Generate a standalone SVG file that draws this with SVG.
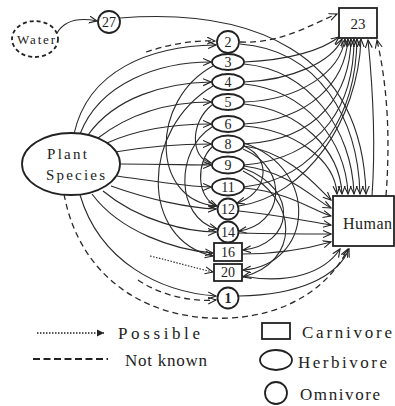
<svg xmlns="http://www.w3.org/2000/svg" width="395" height="406" viewBox="0 0 395 406">
<style>
.n{fill:#fff;stroke:#222;stroke-width:1.8}
.e{fill:none;stroke:#2a2a2a;stroke-width:1.1;marker-end:url(#a)}
.d{fill:none;stroke:#2a2a2a;stroke-width:1.3;stroke-dasharray:6 4;marker-end:url(#a)}
.p{fill:none;stroke:#333;stroke-width:1.2;stroke-dasharray:1.5 1.5;marker-end:url(#a)}
.t{font-family:"Liberation Serif",serif;font-size:14px;fill:#222;text-anchor:middle}
.l{font-family:"Liberation Serif",serif;font-size:17px;fill:#222}
</style>
<defs>
<marker id="a" markerUnits="userSpaceOnUse" markerWidth="9" markerHeight="9" refX="8" refY="4" orient="auto">
<path d="M0,0.5 L8,4 L0,7.5" fill="none" stroke="#222" stroke-width="1.1"/>
</marker>
<marker id="f" markerUnits="userSpaceOnUse" markerWidth="9" markerHeight="9" refX="7" refY="4" orient="auto">
<path d="M0,0.5 L7,4 L0,7.5 Z" fill="#222"/>
</marker>
</defs>
<g id="connectors">
<path class="e" d="M57,33 C66,18 82,18 97,21"/>
<path class="e" d="M120,18 C250,8 362,50 366,194"/>
<path class="d" d="M240,42 C280,44 310,25 337,14"/>
<path class="d" d="M146,52 C170,44 195,40 215,41"/>
<path class="e" d="M74,134 C88,70 150,46 216,45"/>
<path class="e" d="M80,134 C100,82 160,62 211,62"/>
<path class="e" d="M88,135 C115,97 165,83 211,82"/>
<path class="e" d="M98,138 C132,112 172,102 211,102"/>
<path class="e" d="M107,143 C140,128 180,124 211,124"/>
<path class="e" d="M115,152 C150,146 190,144 211,144"/>
<path class="e" d="M120,164 C160,164 190,165 211,165"/>
<path class="e" d="M117,176 C160,182 190,187 211,187"/>
<path class="e" d="M111,186 C150,200 190,208 216,209"/>
<path class="e" d="M103,191 C140,222 190,232 216,232"/>
<path class="e" d="M92,194 C120,232 175,250 213,253"/>
<path class="e" d="M80,195 C100,262 160,292 216,296"/>
<path class="d" d="M64,194 C80,280 150,322 230,318 C290,315 330,285 348,249"/>
<path class="d" d="M138,280 C160,295 190,302 216,300"/>
<path class="p" d="M150,256 C175,262 195,268 213,272"/>
<path class="e" d="M213,66 C150,100 150,200 216,206"/>
<path class="e" d="M213,86 C140,130 140,240 213,256"/>
<path class="e" d="M212,105 C190,122 190,158 211,163"/>
<path class="e" d="M212,127 C175,150 175,218 217,229"/>
<path class="e" d="M212,147 C196,162 196,198 217,206"/>
<path class="e" d="M244,146 C275,160 265,195 237,203"/>
<path class="e" d="M243,149 C292,170 282,225 239,231"/>
<path class="e" d="M243,168 C302,190 292,245 243,250"/>
<path class="e" d="M244,143 C322,170 312,265 243,270"/>
<path class="e" d="M243,171 C300,200 300,262 243,277"/>
<path class="e" d="M244,62 C290,60 322,50 339,37"/>
<path class="e" d="M244,82 C292,80 332,62 342,39"/>
<path class="e" d="M244,102 C300,100 340,72 345,39"/>
<path class="e" d="M244,124 C310,120 345,82 348,39"/>
<path class="e" d="M244,144 C320,140 350,92 351,39"/>
<path class="e" d="M244,165 C325,158 354,102 354,39"/>
<path class="e" d="M244,187 C320,178 356,112 357,39"/>
<path class="e" d="M239,206 C305,196 358,122 361,39"/>
<path class="e" d="M240,44 C320,50 358,120 360,194"/>
<path class="e" d="M244,64 C310,70 352,130 354,194"/>
<path class="e" d="M244,84 C305,90 346,140 348,194"/>
<path class="e" d="M244,104 C300,110 340,150 342,194"/>
<path class="e" d="M244,126 C295,130 335,160 337,194"/>
<path class="e" d="M244,146 C290,152 318,188 331,200"/>
<path class="e" d="M244,166 C290,172 315,200 331,208"/>
<path class="e" d="M244,188 C290,192 315,212 331,216"/>
<path class="e" d="M239,211 C280,215 310,222 331,225"/>
<path class="e" d="M239,233 C280,234 310,234 331,234"/>
<path class="e" d="M242,254 C280,254 310,248 331,242"/>
<path class="e" d="M242,276 C290,285 325,272 340,249"/>
<path class="e" d="M239,296 C300,295 338,276 349,249"/>
<path class="e" d="M372,196 C376,140 372,80 368,40"/>
<path class="d" d="M386,196 C391,130 386,80 377,40"/>
</g>
<g id="water"><ellipse cx="35" cy="39" rx="23" ry="18" fill="#fff" stroke="#222" stroke-width="1.8" stroke-dasharray="4 3"/><text x="36" y="44" style="font-family:'Liberation Serif',serif;font-size:13px;fill:#222" text-anchor="middle" textLength="38" lengthAdjust="spacing">Water</text></g>
<g id="n27"><circle class="n" cx="109" cy="22" r="11"/><text class="t" x="109" y="27">27</text></g>
<g id="plant"><ellipse class="n" cx="71" cy="164" rx="49" ry="31"/><text class="l" style="font-size:15px" x="47" y="159" textLength="40" lengthAdjust="spacing">Plant</text><text class="l" style="font-size:15px" x="46" y="180" textLength="59" lengthAdjust="spacing">Species</text></g>
<g id="n23"><rect class="n" x="339" y="8" width="38" height="30"/><text class="t" x="358" y="29" style="font-size:15px">23</text></g>
<g id="human"><rect class="n" x="333" y="196" width="61" height="50"/><text class="l" x="343" y="229" style="font-size:16px" textLength="49" lengthAdjust="spacing">Human</text></g>
<g id="n2"><circle class="n" cx="228" cy="42" r="11"/><text class="t" x="228" y="47">2</text></g>
<g id="n3"><ellipse class="n" cx="228" cy="62" rx="16" ry="8"/><text class="t" x="228" y="67">3</text></g>
<g id="n4"><ellipse class="n" cx="228" cy="82" rx="16" ry="8"/><text class="t" x="228" y="87">4</text></g>
<g id="n5"><ellipse class="n" cx="228" cy="102" rx="16" ry="8"/><text class="t" x="228" y="107">5</text></g>
<g id="n6"><ellipse class="n" cx="228" cy="124" rx="16" ry="8"/><text class="t" x="228" y="129">6</text></g>
<g id="n8"><ellipse class="n" cx="228" cy="144" rx="16" ry="8.5"/><text class="t" x="228" y="149">8</text></g>
<g id="n9"><ellipse class="n" cx="228" cy="165" rx="16" ry="8.5"/><text class="t" x="228" y="170">9</text></g>
<g id="n11"><ellipse class="n" cx="228" cy="187" rx="16" ry="8.5"/><text class="t" x="228" y="192">11</text></g>
<g id="n12"><circle class="n" cx="228" cy="209" r="10.5"/><text class="t" x="228" y="214">12</text></g>
<g id="n14"><circle class="n" cx="228" cy="232" r="10.5"/><text class="t" x="228" y="237">14</text></g>
<g id="n16"><rect class="n" x="214" y="243" width="28" height="18"/><text class="t" x="228" y="257">16</text></g>
<g id="n20"><rect class="n" x="214" y="264" width="28" height="17"/><text class="t" x="228" y="277">20</text></g>
<g id="n1"><circle class="n" cx="228" cy="298" r="10.5"/><text class="t" x="228" y="303" style="font-weight:bold">1</text></g>
<g id="legend">
<path d="M37,333 L104,333" fill="none" stroke="#222" stroke-width="1.5" stroke-dasharray="1.5 1.5" marker-end="url(#f)"/>
<text class="l" x="118" y="339" textLength="82" lengthAdjust="spacing">Possible</text>
<path d="M33,359 L108,359" fill="none" stroke="#222" stroke-width="1.8" stroke-dasharray="7 3.5"/>
<text class="l" x="125" y="366" textLength="82" lengthAdjust="spacing">Not known</text>
<rect class="n" x="262" y="323" width="28" height="16"/>
<text class="l" x="302" y="338" textLength="90" lengthAdjust="spacing">Carnivore</text>
<ellipse class="n" cx="276" cy="360" rx="16" ry="10"/>
<text class="l" x="298" y="368" textLength="89" lengthAdjust="spacing">Herbivore</text>
<circle class="n" cx="276" cy="393" r="11"/>
<text class="l" x="300" y="400" textLength="80" lengthAdjust="spacing">Omnivore</text>
</g>
</svg>
